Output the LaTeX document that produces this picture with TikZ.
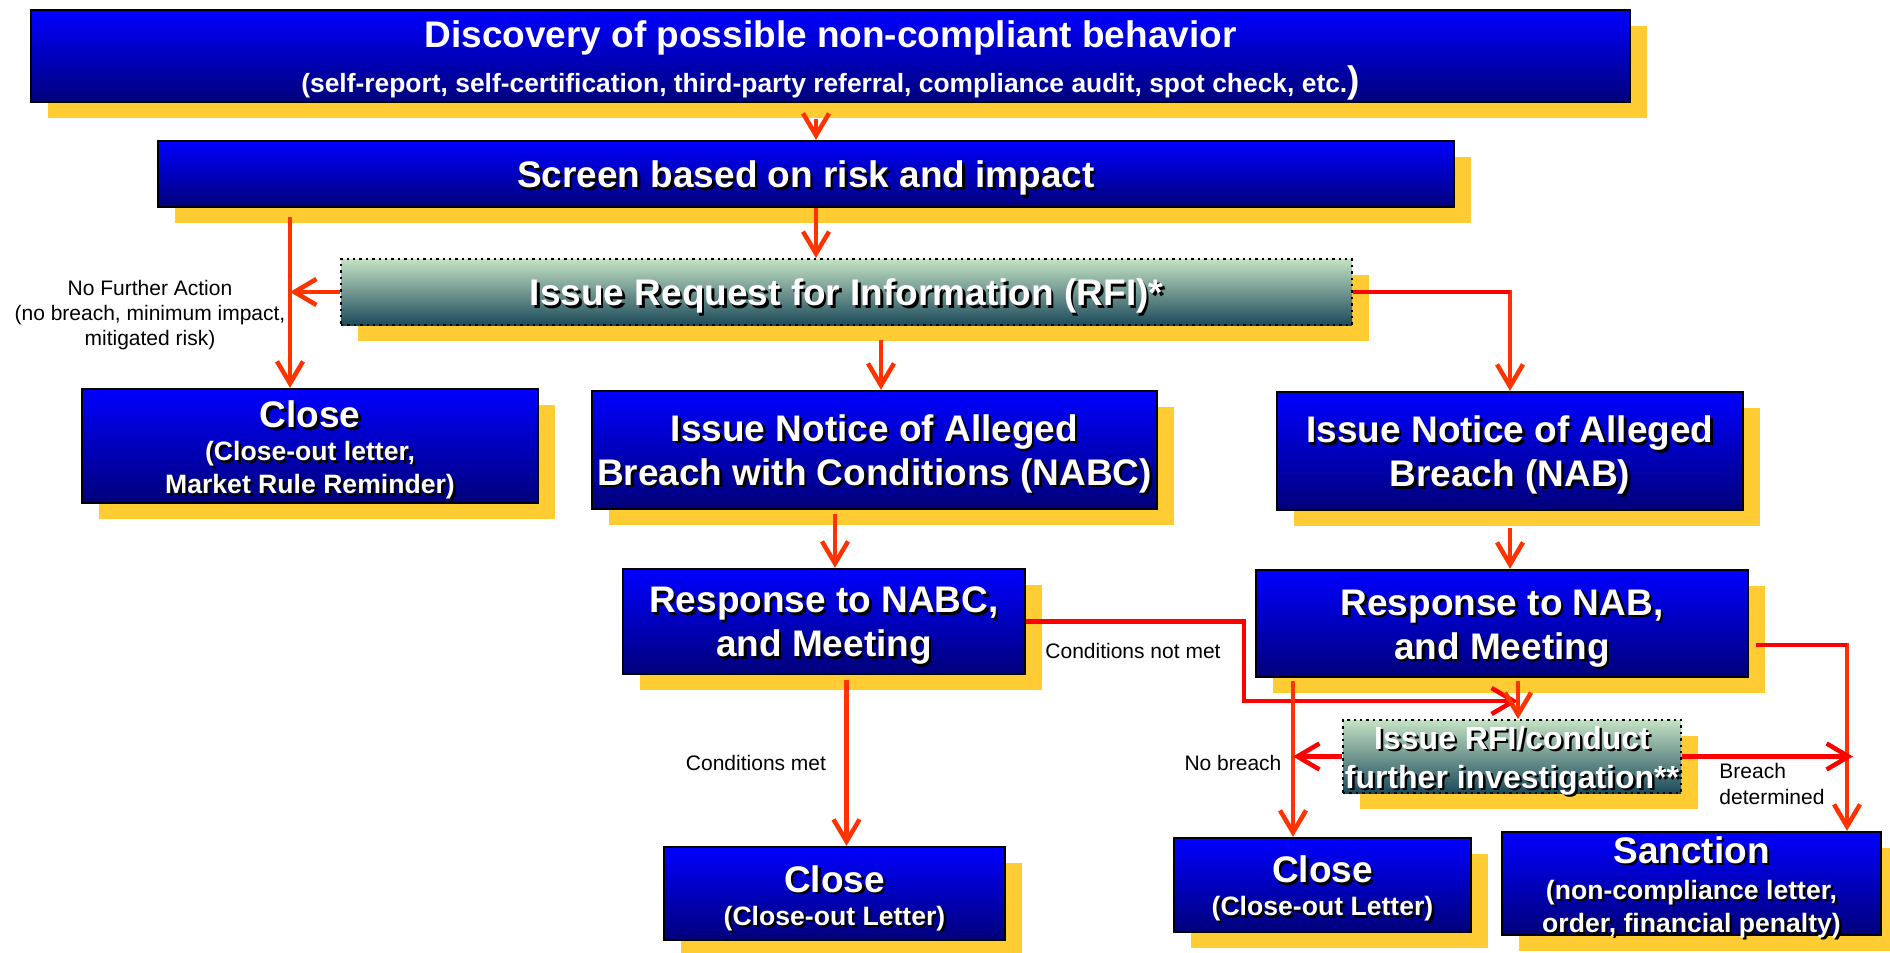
\documentclass[tikz,border=0pt]{standalone}
\usepackage{fontspec}
\setmainfont{Liberation Sans}
\usetikzlibrary{arrows.meta,shadows,calc}
\definecolor{sy}{HTML}{FFCC33}
\definecolor{btop}{HTML}{0000FF}
\definecolor{bbot}{HTML}{00007A}
\definecolor{gtop}{HTML}{C4E2C4}
\definecolor{gbot}{HTML}{1C4A5A}
\definecolor{ared}{HTML}{FF3300}
\definecolor{pred}{HTML}{FF0000}
\newcommand\ts[1]{\makebox[0pt][l]{\hspace{1.2pt}\raisebox{-1.2pt}{\textcolor{black}{#1}}}#1}
\newcommand\fbig{\fontsize{18.5pt}{22pt}\selectfont}
\newcommand\fsub{\fontsize{13.3pt}{16.5pt}\selectfont}
\newcommand\flab{\fontsize{10.5pt}{12.6pt}\selectfont}
% #1 box style, #2 name, #3-#6 corners (px), #7 text-node options, #8 text
\newcommand\mkbox[8]{%
  \node[#1, minimum width={(#5-#3)*0.5pt}, minimum height={(#6-#4)*0.5pt}] (#2) at ({(#3+#5)/2},{(#4+#6)/2}) {};
  \node[boxtext, #7] (#2t) at (#2.center) {#8};}
\tikzset{
  boxbase/.style={draw=black, line width=1.2pt, inner sep=0pt,
    general shadow={fill=sy, draw=none, shadow xshift=8.5pt, shadow yshift=-8pt}},
  bbox/.style={boxbase, top color=btop, bottom color=bbot},
  gbox/.style={boxbase, top color=gtop, bottom color=gbot, dotted, line width=1pt},
  boxtext/.style={text=white, align=center, inner sep=0pt, font=\bfseries\fbig},
  subbox/.style={font=\bfseries\fsub},
  arr/.style={draw=ared, line width=2.25pt, -{Straight Barb[length=11pt,width=13pt]}},
  redline/.style={draw=pred, line width=2.25pt},
  lab/.style={font=\flab, text=black, align=center, inner sep=0pt}
}
\begin{document}
\begin{tikzpicture}[x=0.5pt,y=-0.5pt]
\useasboundingbox (0,0) rectangle (1890,953);
\fill[white] (0,0) rectangle (1890,953);
\clip (0,0) rectangle (1890,953);

% boxes
\mkbox{bbox}{disc}{31}{10}{1630}{102}{font=\bfseries\fontsize{13.2pt}{15pt}\selectfont, yshift=-2.1pt}{{\fbig Discovery of possible non-compliant behavior}\\[4.5pt](self-report, self-certification, third-party referral, compliance audit, spot check, etc.{\fbig)}}
\mkbox{bbox}{screen}{158}{141}{1454}{207}{yshift=-2.75pt}{\ts{Screen based on risk and impact}}
\mkbox{gbox}{rfi}{341}{259}{1352}{325}{yshift=-2.75pt}{\ts{Issue Request for Information (RFI)*}}
\mkbox{bbox}{closeL}{82}{389}{538}{503}{subbox, yshift=-2.65pt}{{\fbig\ts{Close}}\\\ts{(Close-out letter,}\\\ts{Market Rule Reminder)}}
\mkbox{bbox}{nabc}{592}{391}{1157}{509}{yshift=-2.5pt}{\ts{Issue Notice of Alleged}\\\ts{Breach with Conditions (NABC)}}
\mkbox{bbox}{nab}{1277}{392}{1743}{510}{yshift=-2.75pt}{\ts{Issue Notice of Alleged}\\\ts{Breach (NAB)}}
\mkbox{bbox}{respnabc}{623}{569}{1025}{674}{yshift=-2.75pt}{\ts{Response to NABC,}\\\ts{and Meeting}}
\mkbox{bbox}{respnab}{1256}{570}{1748}{677}{yshift=-3pt}{\ts{Response to NAB,}\\\ts{and Meeting}}
\mkbox{gbox}{rfi2}{1343}{720}{1681}{793}{font=\bfseries\fontsize{16pt}{19.5pt}\selectfont, yshift=-2.75pt}{\ts{Issue RFI/conduct}\\\ts{further investigation**}}
\mkbox{bbox}{closeM}{664}{847}{1005}{940}{subbox, yshift=-3pt}{{\fbig\ts{Close}}\\\ts{(Close-out Letter)}}
\mkbox{bbox}{closeR}{1174}{838}{1471}{932}{subbox, yshift=-2.4pt}{{\fbig\ts{Close}}\\\ts{(Close-out Letter)}}
\mkbox{bbox}{sanction}{1502}{832}{1881}{935}{subbox, yshift=-2.3pt}{{\fbig\ts{Sanction}}\\[1.5pt]\ts{(non-compliance letter,}\\\ts{order, financial penalty)}}

% labels
\node[lab, font=\fontsize{10.5pt}{12.7pt}\selectfont] (nfa) at (150,315) {No Further Action\\(no breach, minimum impact,\\mitigated risk)};
\node[lab] (cnmlab) at (1133,651) {Conditions not met};
\node[lab] (cmlab) at (756,763) {Conditions met};
\node[lab] (nblab) at (1233,763) {No breach};
\node[lab, align=left, anchor=west, font=\fontsize{10.5pt}{13pt}\selectfont] (bdlab) at (1719,784) {Breach\\determined};

% connectors
\coordinate (c1) at (290,217);
\draw[arr] (c1) -- (c1 |- closeL.north);
\draw[arr] (rfi.west) -- (c1 |- rfi.west);
\draw[arr, shorten <=8pt] ([xshift=5pt]screen.north |- disc.south) -- ([xshift=5pt]screen.north);
\draw[arr] ([xshift=5pt]screen.south) -- ([xshift=5pt]screen.south |- rfi.north);
\draw[arr, shorten <=7pt] ([xshift=3.25pt]nabc.north |- rfi.south) -- ([xshift=3.25pt]nabc.north);
\draw[arr] (rfi.east) -| (nab.north);
\draw[redline] (rfi.east) -- (rfi.east -| nab.north);
\draw[arr, shorten <=2pt] ([xshift=5.5pt]respnabc.north |- nabc.south) -- ([xshift=5.5pt]respnabc.north);
\draw[arr, shorten <=8.5pt] (nab.south) -- (nab.south |- respnab.north);
\draw[arr, shorten <=2.5pt] ([xshift=6pt]closeM.north |- respnabc.south) -- ([xshift=6pt]closeM.north);
\coordinate (cnm) at (1244,701);
\draw[arr, draw=pred] (respnabc.east) -| (cnm) -- ([xshift=3pt]rfi2.north |- cnm);
\draw[arr, shorten <=1.5pt] ([xshift=3pt]rfi2.north |- respnab.south) -- ([xshift=3pt]rfi2.north);
\coordinate (nbx) at ([xshift=-14.75pt]closeR.north);
\draw[arr, shorten <=1.5pt] (nbx |- respnab.south) -- (nbx);
\draw[arr, draw=pred] (rfi2.west) -- (rfi2.west -| nbx);
\coordinate (sx) at (1847,645);
\draw[arr] ([xshift=3.5pt]respnab.east |- sx) -- (sx) -- (sx |- sanction.north);
\draw[redline] ([xshift=3.5pt]respnab.east |- sx) -- (sx);
\draw[arr, draw=pred, shorten >=-3pt] (rfi2.east) -- (rfi2.east -| sx);
\end{tikzpicture}
\end{document}
